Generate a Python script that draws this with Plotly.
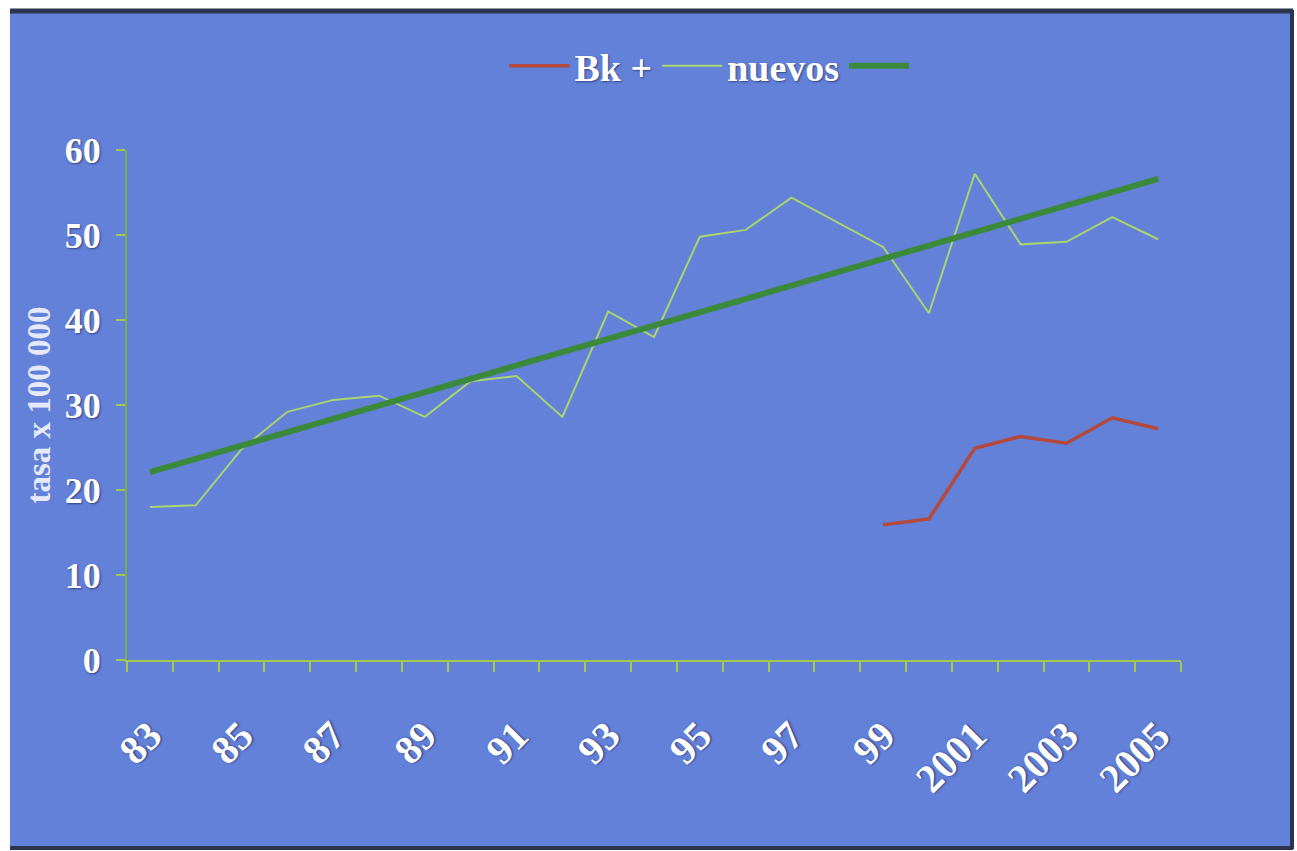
import plotly.graph_objects as go

years = ["83", "84", "85", "86", "87", "88", "89", "90", "91", "92", "93", "94",
         "95", "96", "97", "98", "99", "2000", "2001", "2002", "2003", "2004", "2005"]
tick_labels = ["83", "", "85", "", "87", "", "89", "", "91", "", "93", "",
               "95", "", "97", "", "99", "", "2001", "", "2003", "", "2005"]

nuevos = [18.0, 18.2, 24.8, 29.2, 30.6, 31.1, 28.6, 32.8, 33.4, 28.6, 41.0, 38.0,
          49.8, 50.6, 54.4, 51.5, 48.6, 40.8, 57.2, 48.9, 49.2, 52.1, 49.5]

bk_years = ["99", "2000", "2001", "2002", "2003", "2004", "2005"]
bk_plus = [15.9, 16.6, 24.9, 26.3, 25.5, 28.5, 27.2]

trend_years = ["83", "2005"]
trend_vals = [22.1, 56.6]

BG = "#6381d9"
AXIS = "#a4c74e"
SERIF = "Liberation Serif, Times New Roman, serif"
SHADOW = "1px 1px 2px rgba(30,40,90,0.7)"

fig = go.Figure()
fig.add_trace(go.Scatter(x=bk_years, y=bk_plus, mode="lines", name="Bk +",
                         line=dict(color="#b5493b", width=3.5)))
fig.add_trace(go.Scatter(x=years, y=nuevos, mode="lines", name="nuevos",
                         line=dict(color="#a9d46e", width=2)))
fig.add_trace(go.Scatter(x=trend_years, y=trend_vals, mode="lines", name="",
                         line=dict(color="#3b8a3c", width=6)))

# page frame (px -> paper coords)
L, R, T, B = 127, 1181, 150, 660
def px(xp):
    return (xp - L) / (R - L)
def py(yp):
    return (B - yp) / (B - T)

shapes = [
    dict(type="rect", xref="paper", yref="paper", x0=px(10), x1=px(1293), y0=py(849), y1=py(10),
         fillcolor=BG, line=dict(width=0), layer="below"),
    dict(type="line", xref="paper", yref="paper", x0=px(10), x1=px(1293), y0=py(11), y1=py(11),
         line=dict(color="#2c3550", width=5), layer="below"),
    dict(type="line", xref="paper", yref="paper", x0=px(1292), x1=px(1292), y0=py(849), y1=py(10),
         line=dict(color="#2c3550", width=4), layer="below"),
    dict(type="line", xref="paper", yref="paper", x0=px(10), x1=px(1293), y0=py(848), y1=py(848),
         line=dict(color="#2c3550", width=4), layer="below"),
]

fig.update_layout(
    width=1297, height=851,
    margin=dict(l=L, r=1297 - R, t=T, b=851 - B, pad=0),
    paper_bgcolor="white",
    plot_bgcolor="rgba(0,0,0,0)",
    shapes=shapes,
    showlegend=True,
    legend=dict(orientation="h", x=px(712), xanchor="center", y=py(66), yanchor="middle",
                bgcolor="rgba(0,0,0,0)", itemwidth=60,
                font=dict(family=SERIF, size=38, color="white", weight="bold", shadow=SHADOW)),
    xaxis=dict(type="category", categoryorder="array", categoryarray=years,
               range=[-0.5, 22.5], tickmode="array", tickvals=years, ticktext=tick_labels,
               tickson="boundaries", ticks="outside", ticklen=10, tickwidth=1.5, tickcolor=AXIS,
               showline=True, linecolor=AXIS, linewidth=2, showgrid=False, zeroline=False,
               tickangle=-45, ticklabelstandoff=34,
               tickfont=dict(family=SERIF, size=40, color="white", weight="bold", shadow=SHADOW)),
    yaxis=dict(range=[0, 60], dtick=10, tick0=0, ticks="outside", ticklen=9, tickwidth=1.5,
               tickcolor=AXIS, showline=True, linecolor="#77b04a", linewidth=2,
               showgrid=False, zeroline=False, ticklabelstandoff=8,
               tickfont=dict(family=SERIF, size=36, color="white", weight="bold", shadow=SHADOW),
               title=dict(text="tasa x 100 000", standoff=4,
                          font=dict(family=SERIF, size=33, color="#e6eaf8", weight="bold"))),
)

fig.write_html("out.html")
